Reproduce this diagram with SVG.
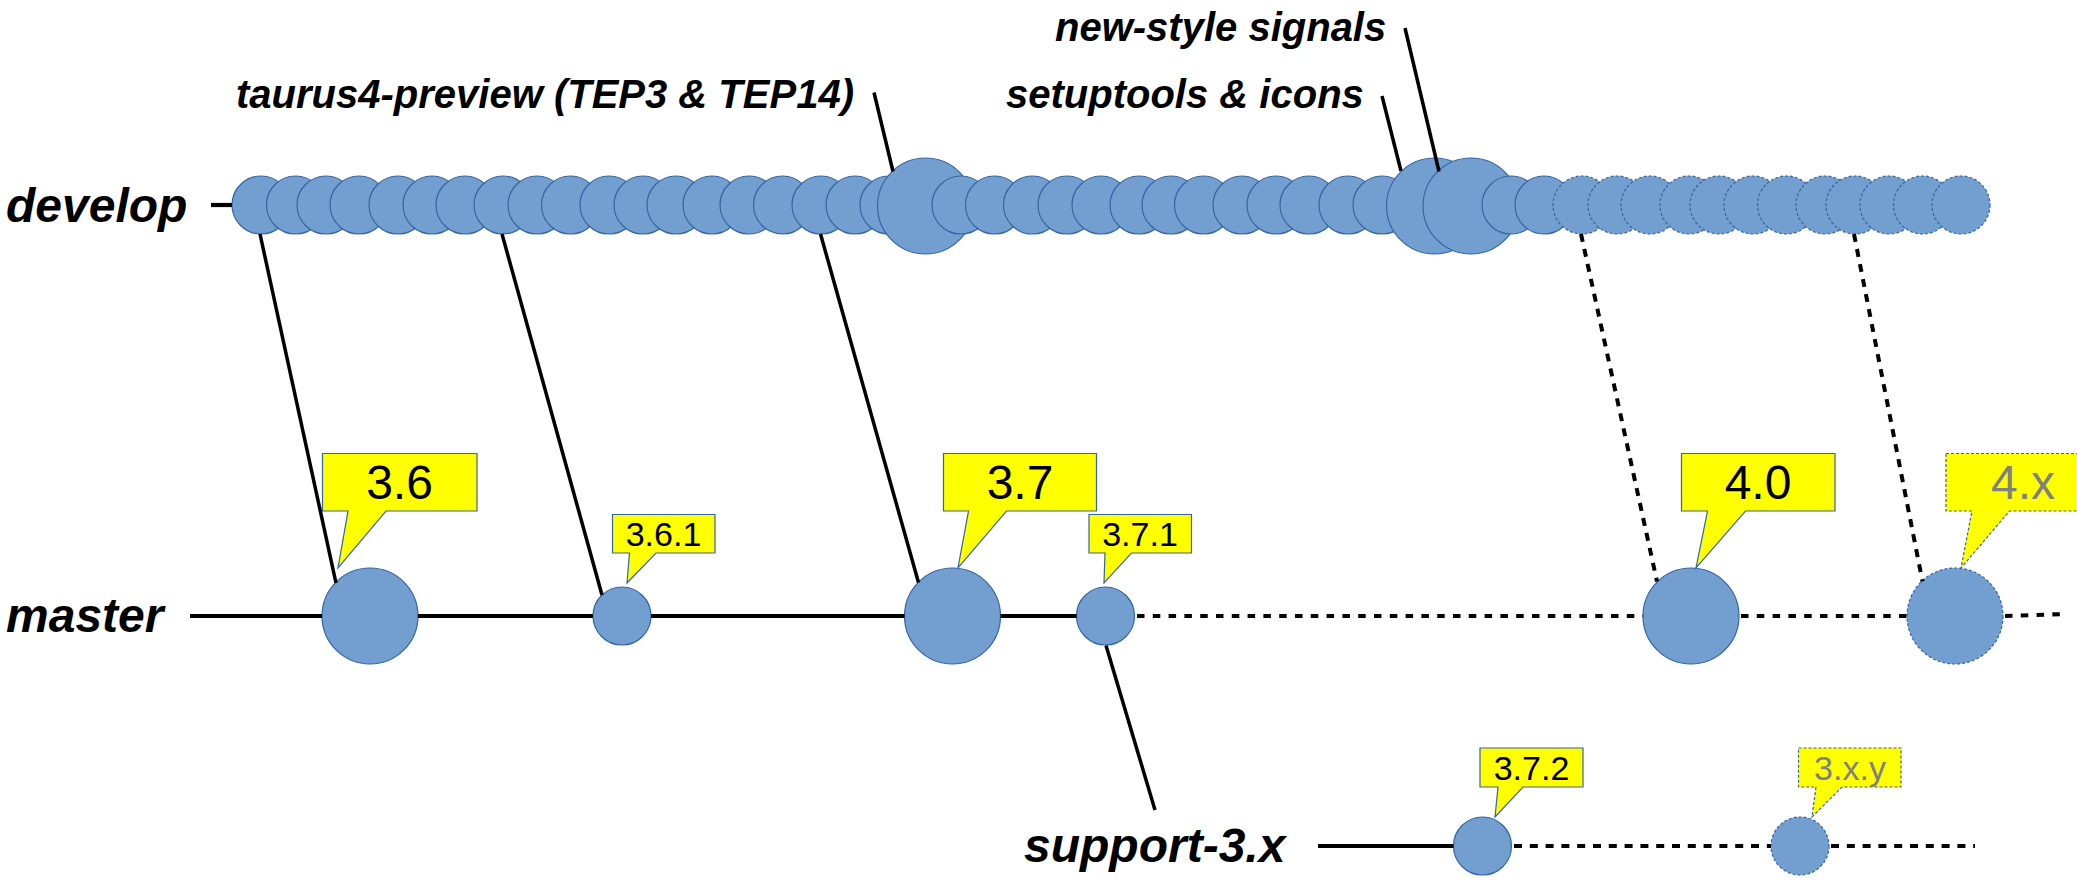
<svg xmlns="http://www.w3.org/2000/svg" width="2077" height="882" viewBox="0 0 2077 882">
<style>
.c{fill:#729fcf;stroke:#3465a4;stroke-width:1.2}
.cd{fill:#729fcf;stroke:#3465a4;stroke-width:1.2;stroke-dasharray:3 2}
.co{fill:#ffff00;stroke:#3465a4;stroke-width:1.2}
.cod{fill:#ffff00;stroke:#3465a4;stroke-width:1.2;stroke-dasharray:3 2}
.br{font-family:"Liberation Sans",Arial,sans-serif;font-weight:bold;font-style:italic;font-size:48px;fill:#000}
.an{font-family:"Liberation Sans",Arial,sans-serif;font-weight:bold;font-style:italic;font-size:40px;fill:#000}
.big{font-family:"Liberation Sans",Arial,sans-serif;font-size:48px;fill:#000;text-anchor:middle}
.sm{font-family:"Liberation Sans",Arial,sans-serif;font-size:34px;fill:#000;text-anchor:middle}
.gr{fill:#808080}
.s4{stroke:#000;stroke-width:4.2;fill:none}
.s3{stroke:#000;stroke-width:3.5;fill:none}
.dm{stroke:#000;stroke-width:4.2;fill:none;stroke-dasharray:7.5 8.3}
.dd{stroke:#000;stroke-width:4;fill:none;stroke-dasharray:8 7.3}
.ds{stroke:#000;stroke-width:4.2;fill:none;stroke-dasharray:8 7.8}
</style>
<rect width="2077" height="882" fill="#fff"/>
<g id="labels">
<text class="br" x="6" y="222">develop</text>
<text class="br" x="6" y="632">master</text>
<text class="br" x="1024" y="862">support-3.x</text>
<text class="an" x="236" y="108">taurus4-preview (TEP3 &amp; TEP14)</text>
<text class="an" x="1006" y="108">setuptools &amp; icons</text>
<text class="an" x="1055" y="41">new-style signals</text>
</g>
<g id="develop">
<g id="d01"><circle class="c" cx="261" cy="205" r="29"/></g>
<g id="d02"><circle class="c" cx="295.5" cy="205" r="29"/></g>
<g id="d03"><circle class="c" cx="326" cy="205" r="29"/></g>
<g id="d04"><circle class="c" cx="359" cy="205" r="29"/></g>
<g id="d05"><circle class="c" cx="398" cy="205" r="29"/></g>
<g id="d06"><circle class="c" cx="432" cy="205" r="29"/></g>
<g id="d07"><circle class="c" cx="465" cy="205" r="29"/></g>
<g id="d08"><circle class="c" cx="503" cy="205" r="29"/></g>
<g id="d09"><circle class="c" cx="537" cy="205" r="29"/></g>
<g id="d10"><circle class="c" cx="570.5" cy="205" r="29"/></g>
<g id="d11"><circle class="c" cx="609" cy="205" r="29"/></g>
<g id="d12"><circle class="c" cx="643" cy="205" r="29"/></g>
<g id="d13"><circle class="c" cx="676" cy="205" r="29"/></g>
<g id="d14"><circle class="c" cx="712" cy="205" r="29"/></g>
<g id="d15"><circle class="c" cx="749" cy="205" r="29"/></g>
<g id="d16"><circle class="c" cx="782.5" cy="205" r="29"/></g>
<g id="d17"><circle class="c" cx="821" cy="205" r="29"/></g>
<g id="d18"><circle class="c" cx="855" cy="205" r="29"/></g>
<g id="d19"><circle class="c" cx="889" cy="205" r="29"/></g>
<g id="d20"><circle class="c" cx="925.5" cy="206" r="48"/></g>
<g id="d21"><circle class="c" cx="961" cy="205" r="29"/></g>
<g id="d22"><circle class="c" cx="994.5" cy="205" r="29"/></g>
<g id="d23"><circle class="c" cx="1032.5" cy="205" r="29"/></g>
<g id="d24"><circle class="c" cx="1067" cy="205" r="29"/></g>
<g id="d25"><circle class="c" cx="1101" cy="205" r="29"/></g>
<g id="d26"><circle class="c" cx="1139" cy="205" r="29"/></g>
<g id="d27"><circle class="c" cx="1171" cy="205" r="29"/></g>
<g id="d28"><circle class="c" cx="1203.5" cy="205" r="29"/></g>
<g id="d29"><circle class="c" cx="1242" cy="205" r="29"/></g>
<g id="d30"><circle class="c" cx="1276" cy="205" r="29"/></g>
<g id="d31"><circle class="c" cx="1309" cy="205" r="29"/></g>
<g id="d32"><circle class="c" cx="1348" cy="205" r="29"/></g>
<g id="d33"><circle class="c" cx="1382" cy="205" r="29"/></g>
<g id="d34"><circle class="c" cx="1434.5" cy="206" r="48"/></g>
<g id="d35"><circle class="c" cx="1471" cy="206" r="48"/></g>
<g id="d36"><circle class="c" cx="1511" cy="205" r="29"/></g>
<g id="d37"><circle class="c" cx="1544" cy="205" r="29"/></g>
<g id="d38"><circle class="cd" cx="1582" cy="205" r="29"/></g>
<g id="d39"><circle class="cd" cx="1617" cy="205" r="29"/></g>
<g id="d40"><circle class="cd" cx="1650" cy="205" r="29"/></g>
<g id="d41"><circle class="cd" cx="1689" cy="205" r="29"/></g>
<g id="d42"><circle class="cd" cx="1719" cy="205" r="29"/></g>
<g id="d43"><circle class="cd" cx="1753" cy="205" r="29"/></g>
<g id="d44"><circle class="cd" cx="1786.5" cy="205" r="29"/></g>
<g id="d45"><circle class="cd" cx="1825" cy="205" r="29"/></g>
<g id="d46"><circle class="cd" cx="1855" cy="205" r="29"/></g>
<g id="d47"><circle class="cd" cx="1889" cy="205" r="29"/></g>
<g id="d48"><circle class="cd" cx="1922.5" cy="205" r="29"/></g>
<g id="d49"><circle class="cd" cx="1961" cy="205" r="29"/></g>
</g>
<g id="master">
<g id="m36"><circle class="c" cx="370" cy="616" r="48"/>
<path class="co" d="M322.5,453.5 H477 V511 H386 L338,568 L348,511 H322.5 Z"/>
<text class="big" x="399.5" y="499">3.6</text></g>
<g id="m361"><circle class="c" cx="622" cy="616" r="29"/>
<path class="co" d="M612.5,514.5 H715 V553 H656 L627,583 L629.5,553 H612.5 Z"/>
<text class="sm" x="663.5" y="546">3.6.1</text></g>
<g id="m37"><circle class="c" cx="952.5" cy="616" r="48"/>
<path class="co" d="M943.5,453.5 H1096.5 V511 H1006.5 L958,568 L968.5,511 H943.5 Z"/>
<text class="big" x="1020" y="499">3.7</text></g>
<g id="m371"><circle class="c" cx="1105.5" cy="616" r="29"/>
<path class="co" d="M1089,514.5 H1191.5 V553 H1131.5 L1104,583 L1105,553 H1089 Z"/>
<text class="sm" x="1140" y="546">3.7.1</text></g>
<g id="m40"><circle class="c" cx="1691" cy="616" r="48"/>
<path class="co" d="M1681.5,453.5 H1835 V511 H1745.5 L1696,568 L1707.5,511 H1681.5 Z"/>
<text class="big" x="1758" y="499">4.0</text></g>
<g id="m4x"><circle class="cd" cx="1955" cy="616" r="48"/>
<path class="cod" d="M1946,453.5 H2100 V511 H2009.5 L1961,568 L1972,511 H1946 Z"/>
<text class="big gr" x="2023" y="499">4.x</text></g>
</g>
<g id="support">
<g id="s372"><circle class="c" cx="1482.5" cy="846" r="29"/>
<path class="co" d="M1480,748 H1583 V787 H1523 L1495,817 L1498,787 H1480 Z"/>
<text class="sm" x="1531.5" y="780">3.7.2</text></g>
<g id="s3xy"><circle class="cd" cx="1800" cy="846" r="29"/>
<path class="cod" d="M1798.5,748 H1901 V787 H1842 L1812,817 L1816,787 H1798.5 Z"/>
<text class="sm gr" x="1850" y="780">3.x.y</text></g>
</g>
<g id="connectors">
<line class="s4" x1="211" y1="205" x2="232" y2="205"/>
<line class="s4" x1="190" y1="616" x2="322" y2="616"/>
<line class="s4" x1="418" y1="616" x2="593" y2="616"/>
<line class="s4" x1="651" y1="616" x2="904.5" y2="616"/>
<line class="s4" x1="1000.5" y1="616" x2="1076.5" y2="616"/>
<line class="dm" x1="1137" y1="616" x2="1643" y2="616"/>
<line class="dm" x1="1741" y1="616" x2="1907" y2="616"/>
<line class="dm" x1="2005" y1="616" x2="2067" y2="614"/>
<line class="s4" x1="1318" y1="846" x2="1453.5" y2="846"/>
<line class="ds" x1="1514" y1="846" x2="1771" y2="846"/>
<line class="ds" x1="1831" y1="846" x2="1975" y2="846"/>
<line class="s3" x1="260" y1="234" x2="336" y2="583"/>
<line class="s3" x1="502" y1="234" x2="602" y2="595"/>
<line class="s3" x1="820.5" y1="234" x2="918.5" y2="582.5"/>
<line class="s3" x1="1106" y1="645.5" x2="1155" y2="810"/>
<line class="dd" x1="1581" y1="234" x2="1657" y2="581.5"/>
<line class="dd" x1="1854" y1="234" x2="1922.5" y2="581.5"/>
<line class="s3" x1="874" y1="92.5" x2="893" y2="171.5"/>
<line class="s3" x1="1382" y1="96" x2="1401" y2="171"/>
<line class="s3" x1="1405" y1="28" x2="1439" y2="171.5"/>
</g>
</svg>
